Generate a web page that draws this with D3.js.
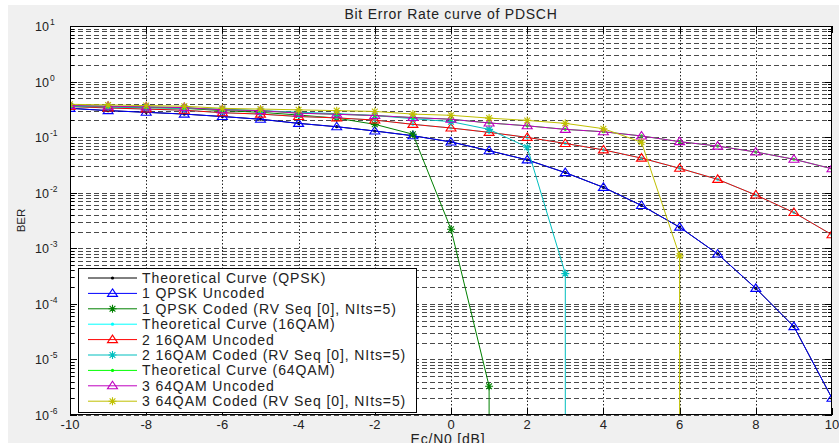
<!DOCTYPE html>
<html>
<head>
<meta charset="utf-8">
<script src="https://cdn.jsdelivr.net/npm/d3@7/dist/d3.min.js"></script>
<style>
    body { margin: 0; background: #fff; }
    svg { display: block; font-family: "Liberation Sans", Arial, sans-serif; }
</style>
</head>
<body>
<svg id="chart" width="839" height="443"></svg>
<script>
// Ec/N0 points [dB]
const ecN0 = [-10, -9, -8, -7, -6, -5, -4, -3, -2, -1, 0, 1, 2, 3, 4, 5, 6, 7, 8, 9, 10];

// BER values (0 = no errors, drawn as a drop off the axis)
const theoQPSK    = [0.33, 0.30, 0.28, 0.26, 0.235, 0.21, 0.177, 0.154, 0.129, 0.106, 0.082, 0.057, 0.039, 0.023, 0.0125, 0.0059, 0.0024, 0.00079, 0.00019, 0.000039, 0.000002];
const uncodedQPSK = [0.33, 0.30, 0.28, 0.26, 0.235, 0.21, 0.177, 0.154, 0.129, 0.106, 0.082, 0.057, 0.039, 0.023, 0.0125, 0.0059, 0.0024, 0.00079, 0.00019, 0.000039, 0.000002];
const codedQPSK   = [0.36, 0.35, 0.34, 0.33, 0.30, 0.28, 0.25, 0.22, 0.17, 0.113, 0.0022, 0.0000033, 0, 0, 0, 0, 0, 0, 0, 0, 0];
const theo16QAM   = [0.355, 0.335, 0.32, 0.305, 0.275, 0.26, 0.235, 0.222, 0.203, 0.17, 0.146, 0.122, 0.099, 0.077, 0.059, 0.042, 0.0275, 0.0174, 0.0091, 0.0044, 0.00175];
const uncoded16QAM = [0.355, 0.335, 0.32, 0.305, 0.275, 0.26, 0.235, 0.222, 0.203, 0.17, 0.146, 0.122, 0.099, 0.077, 0.059, 0.042, 0.0275, 0.0174, 0.0091, 0.0044, 0.00175];
const coded16QAM  = [0.36, 0.35, 0.34, 0.33, 0.32, 0.30, 0.28, 0.265, 0.245, 0.215, 0.19, 0.138, 0.066, 0.00035, 0, 0, 0, 0, 0, 0, 0];
const theo64QAM   = [0.37, 0.36, 0.35, 0.34, 0.31, 0.30, 0.27, 0.258, 0.245, 0.225, 0.21, 0.18, 0.16, 0.138, 0.125, 0.105, 0.083, 0.069, 0.054, 0.040, 0.027];
const uncoded64QAM = [0.37, 0.36, 0.35, 0.34, 0.31, 0.30, 0.27, 0.258, 0.245, 0.225, 0.21, 0.18, 0.16, 0.138, 0.125, 0.105, 0.083, 0.069, 0.054, 0.040, 0.027];
const coded64QAM  = [0.39, 0.38, 0.37, 0.36, 0.33, 0.32, 0.31, 0.30, 0.29, 0.26, 0.247, 0.22, 0.20, 0.177, 0.142, 0.081, 0.00073, 0, 0, 0, 0];

const xTicks = [-10, -8, -6, -4, -2, 0, 2, 4, 6, 8, 10];
const yExponents = [-6, -5, -4, -3, -2, -1, 0, 1];

const series = [
    {name: 'Theoretical Curve (QPSK)', values: theoQPSK, color: '#000000', marker: 'dot'},
    {name: '1 QPSK Uncoded', values: uncodedQPSK, color: '#0000ff', marker: 'triangle'},
    {name: '1 QPSK Coded (RV Seq [0], NIts=5)', values: codedQPSK, color: '#008000', marker: 'star'},
    {name: 'Theoretical Curve (16QAM)', values: theo16QAM, color: '#00ffff', marker: 'dot'},
    {name: '2 16QAM Uncoded', values: uncoded16QAM, color: '#ff0000', marker: 'triangle'},
    {name: '2 16QAM Coded (RV Seq [0], NIts=5)', values: coded16QAM, color: '#00bfbf', marker: 'star'},
    {name: 'Theoretical Curve (64QAM)', values: theo64QAM, color: '#00ff00', marker: 'dot'},
    {name: '3 64QAM Uncoded', values: uncoded64QAM, color: '#bf00bf', marker: 'triangle'},
    {name: '3 64QAM Coded (RV Seq [0], NIts=5)', values: coded64QAM, color: '#bfbf00', marker: 'star'}
];

const W = 839, H = 443;
const LEFT = 70, RIGHT = 832, TOP = 26, BOTTOM = 415;

const svg = d3.select('#chart');

// grey figure background
svg.append('rect').attr('x', 8).attr('y', 5).attr('width', W - 8).attr('height', H - 5).attr('fill', '#f0f0f0');

const x = d3.scaleLinear().domain([-10, 10]).range([LEFT, RIGHT]);
const y = d3.scaleLog().domain([1e-6, 10]).range([BOTTOM, TOP]);

svg.append('rect')
    .attr('x', LEFT).attr('y', TOP)
    .attr('width', RIGHT - LEFT).attr('height', BOTTOM - TOP)
    .attr('fill', '#fff');

svg.append('clipPath').attr('id', 'plot-clip')
    .append('rect')
    .attr('x', LEFT).attr('y', TOP)
    .attr('width', RIGHT - LEFT).attr('height', BOTTOM - TOP);

// grid
const yGridVals = [];
yExponents.forEach(e => {
    if (e === 1) { yGridVals.push(10); return; }
    for (let k = 1; k <= 9; k++) yGridVals.push(k * Math.pow(10, e));
});

const grid = svg.append('g');
grid.selectAll('.hgrid')
    .data(yGridVals)
    .enter()
    .append('line')
    .attr('x1', LEFT).attr('x2', RIGHT)
    .attr('y1', d => Math.round(y(d)) + 0.5)
    .attr('y2', d => Math.round(y(d)) + 0.5)
    .attr('stroke', '#4a4a4a')
    .attr('stroke-dasharray', '5,3');

grid.selectAll('.vgrid')
    .data(xTicks.slice(1, -1))
    .enter()
    .append('line')
    .attr('x1', d => Math.round(x(d)) + 0.5)
    .attr('x2', d => Math.round(x(d)) + 0.5)
    .attr('y1', TOP).attr('y2', BOTTOM)
    .attr('stroke', '#222')
    .attr('stroke-dasharray', '1.5,2');

// tick marks (inside, like MATLAB)
const ticks = svg.append('g').attr('stroke', '#000');
yGridVals.forEach(v => {
    const len = (Math.log10(v) % 1 === 0) ? 7 : 4;
    const yy = Math.round(y(v)) + 0.5;
    ticks.append('line').attr('x1', LEFT).attr('x2', LEFT + len).attr('y1', yy).attr('y2', yy);
    ticks.append('line').attr('x1', RIGHT - len).attr('x2', RIGHT).attr('y1', yy).attr('y2', yy);
});
xTicks.forEach(v => {
    const xx = Math.round(x(v)) + 0.5;
    ticks.append('line').attr('x1', xx).attr('x2', xx).attr('y1', BOTTOM).attr('y2', BOTTOM - 7);
    ticks.append('line').attr('x1', xx).attr('x2', xx).attr('y1', TOP).attr('y2', TOP + 7);
});

// markers
const starPath = r => {
    const d = r * 0.72;
    return `M${-r},0H${r}M0,${-r}V${r}M${-d},${-d}L${d},${d}M${-d},${d}L${d},${-d}`;
};
const trianglePath = 'M0,-4.5L5,3L-5,3Z';

function drawMarker(g, type, color) {
    if (type === 'dot') {
        g.append('circle').attr('r', 1.6).attr('fill', color);
    } else if (type === 'triangle') {
        g.append('path').attr('d', trianglePath).attr('fill', 'none').attr('stroke', color).attr('stroke-width', 1.1);
    } else {
        g.append('path').attr('d', starPath(4)).attr('fill', 'none').attr('stroke', color).attr('stroke-width', 1.1);
    }
}

// lines: a zero BER is -inf on the log axis, so the curve falls straight down
function linePoints(vals) {
    const pts = [];
    for (let i = 0; i < vals.length; i++) {
        if (vals[i] > 0) {
            pts.push([x(ecN0[i]), y(vals[i])]);
        } else {
            if (pts.length) pts.push([x(ecN0[i - 1]), BOTTOM + 10]);
            break;
        }
    }
    return pts;
}

const plot = svg.append('g').attr('clip-path', 'url(#plot-clip)');
const line = d3.line();

series.forEach(s => {
    const g = plot.append('g');
    g.append('path')
        .attr('d', line(linePoints(s.values)))
        .attr('fill', 'none')
        .attr('stroke', s.color)
        .attr('stroke-width', 1);
    s.values.forEach((v, i) => {
        if (v <= 0) return;
        const m = g.append('g').attr('transform', `translate(${x(ecN0[i])},${y(v)})`);
        drawMarker(m, s.marker, s.color);
    });
});

// axes box
svg.append('rect')
    .attr('x', LEFT + 0.5).attr('y', TOP + 0.5)
    .attr('width', RIGHT - LEFT - 1).attr('height', BOTTOM - TOP - 1)
    .attr('fill', 'none').attr('stroke', '#000');

// x tick labels
svg.append('g').selectAll('text')
    .data(xTicks)
    .enter()
    .append('text')
    .attr('x', d => x(d))
    .attr('y', 429)
    .attr('text-anchor', 'middle')
    .attr('font-size', 13)
    .attr('fill', '#222')
    .text(d => d);

// y tick labels 10^n
const yLab = svg.append('g').attr('fill', '#222');
yExponents.forEach(e => {
    const yy = y(Math.pow(10, e));
    yLab.append('text').attr('x', 49).attr('y', yy + 5).attr('text-anchor', 'end').attr('font-size', 12.5).text('10');
    yLab.append('text').attr('x', 50).attr('y', yy - 1).attr('font-size', 8.5).text(e);
});

// titles
svg.append('text')
    .attr('x', (LEFT + RIGHT) / 2).attr('y', 19)
    .attr('text-anchor', 'middle')
    .attr('font-size', 14)
    .attr('letter-spacing', 0.75)
    .attr('fill', '#222')
    .text('Bit Error Rate curve of PDSCH');

svg.append('text')
    .attr('x', (LEFT + RIGHT) / 2 - 3).attr('y', 444)
    .attr('text-anchor', 'middle')
    .attr('font-size', 14)
    .attr('letter-spacing', 0.8)
    .attr('fill', '#222')
    .text('Ec/N0 [dB]');

svg.append('text')
    .attr('transform', `translate(25,${(TOP + BOTTOM) / 2}) rotate(-90)`)
    .attr('text-anchor', 'middle')
    .attr('font-size', 11.5)
    .attr('fill', '#222')
    .text('BER');

// legend
const LEG_X = 78, LEG_Y = 268, LEG_W = 338, LEG_H = 144, ROW = 15.4;
const legend = svg.append('g');
legend.append('rect')
    .attr('x', LEG_X + 0.5).attr('y', LEG_Y + 0.5)
    .attr('width', LEG_W).attr('height', LEG_H)
    .attr('fill', '#fff').attr('stroke', '#000');

series.forEach((s, i) => {
    const cy = LEG_Y + 10 + i * ROW;
    const row = legend.append('g');
    row.append('line')
        .attr('x1', 88).attr('x2', 137)
        .attr('y1', cy).attr('y2', cy)
        .attr('stroke', s.color);
    drawMarker(row.append('g').attr('transform', `translate(112.5,${cy})`), s.marker, s.color);
    row.append('text')
        .attr('x', 142).attr('y', cy + 5)
        .attr('font-size', 14)
        .attr('letter-spacing', 0.9)
        .attr('fill', '#222')
        .text(s.name);
});
</script>
</body>
</html>
